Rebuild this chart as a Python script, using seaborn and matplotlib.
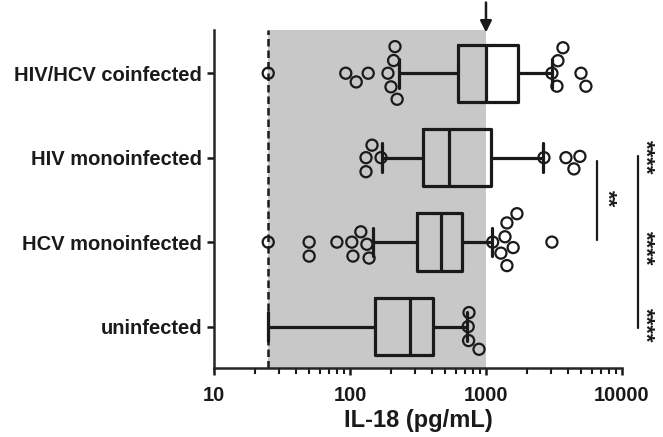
import numpy as np
import pandas as pd
import matplotlib
matplotlib.use("Agg")
import matplotlib.pyplot as plt
import seaborn as sns

# %% Data
groups = ["HIV/HCV coinfected", "HIV monoinfected", "HCV monoinfected", "uninfected"]

# box summaries: whisker low, q1, median, q3, whisker high (pg/mL)
coinf_box = [229, 622, 1000, 1718, 3055]
hiv_box = [172, 344, 534, 1088, 2626]
hcv_box = [148, 311, 467, 666, 1107]
uninf_box = [25, 153, 276, 408, 725]

# individual points beyond the whiskers
coinf_pts = [25, 93, 111, 136, 190, 200, 209, 214, 222, 3055, 3327, 3383, 3683, 5000, 5435]
hiv_pts = [131, 131, 145, 169, 2669, 3875, 4436, 4910]
hcv_pts = [25, 50, 50, 80, 103, 105, 120, 133, 138,
           1120, 1288, 1380, 1426, 1426, 1585, 1690, 3055]
uninf_pts = [740, 745, 750, 889]

detection_limit = 25
normal_upper = 1000

box_df = pd.DataFrame({
    "group": np.repeat(groups, 5),
    "IL18": coinf_box + hiv_box + hcv_box + uninf_box,
})
pts_list = [coinf_pts, hiv_pts, hcv_pts, uninf_pts]
pts_df = pd.DataFrame({
    "group": np.concatenate([[g] * len(p) for g, p in zip(groups, pts_list)]),
    "IL18": np.concatenate(pts_list),
})

# %% Plot
sns.set_style("ticks")
plt.rcParams["font.family"] = ["Liberation Sans", "DejaVu Sans"]
plt.rcParams["font.weight"] = "bold"
plt.rcParams["axes.linewidth"] = 1.8
plt.rcParams["text.color"] = "#1a1a1a"
plt.rcParams["xtick.color"] = "#1a1a1a"
plt.rcParams["ytick.color"] = "#1a1a1a"
plt.rcParams["axes.labelcolor"] = "#1a1a1a"

fig = plt.figure(figsize=(6.63, 4.37), dpi=100)
ax = fig.add_axes([0.323, 0.158, 0.615, 0.773])

sns.boxplot(data=box_df, x="IL18", y="group", order=groups, whis=np.inf,
            width=0.68, fill=False, color="#1a1a1a", linewidth=2.3,
            showfliers=False, log_scale=True, ax=ax)
sns.swarmplot(data=pts_df, x="IL18", y="group", order=groups, size=8,
              color="white", edgecolor="#1a1a1a", linewidth=1.6,
              log_scale=True, ax=ax, zorder=3)
for coll in ax.collections:
    coll.set_facecolor("none")

ax.axvspan(detection_limit, normal_upper, color="#c8c8c8", lw=0, zorder=0)
ax.axvline(detection_limit, color="#1a1a1a", lw=1.8, ls=(0, (3, 1.6)), zorder=1)

ax.set_xlim(10, 10000)
ax.set_ylim(3.49, -0.51)
ax.set_xticks([10, 100, 1000, 10000])
ax.set_xticklabels(["10", "100", "1000", "10000"])
ax.tick_params(axis="both", which="major", labelsize=14.5, length=5, width=1.8)
ax.tick_params(axis="x", which="major", pad=8)
ax.tick_params(axis="x", which="minor", length=4, width=1.5)
for lab in ax.get_xticklabels() + ax.get_yticklabels():
    lab.set_fontweight("bold")
ax.set_ylabel("")
ax.set_xlabel("IL-18 (pg/mL)", fontsize=17, fontweight="bold", labelpad=3)
sns.despine(ax=ax)

# arrow marking the upper normal value
ax.annotate("", xy=(normal_upper, -0.45), xytext=(normal_upper, -0.87),
            arrowprops=dict(arrowstyle="-|>", color="#1a1a1a", lw=1.8, mutation_scale=17),
            annotation_clip=False)

# significance brackets
ax.plot([6550, 6550], [1.04, 1.98], color="#1a1a1a", lw=1.6, clip_on=False)
ax.plot([13120, 13120], [0.985, 3.02], color="#1a1a1a", lw=1.6, clip_on=False)
ax.text(7700, 1.48, "**", rotation=270, ha="center", va="center", fontsize=16)
for yy in [1.0, 2.07, 2.99]:
    ax.text(14800, yy, "****", rotation=270, ha="center", va="center", fontsize=16)

fig.savefig("out.png", dpi=100)
